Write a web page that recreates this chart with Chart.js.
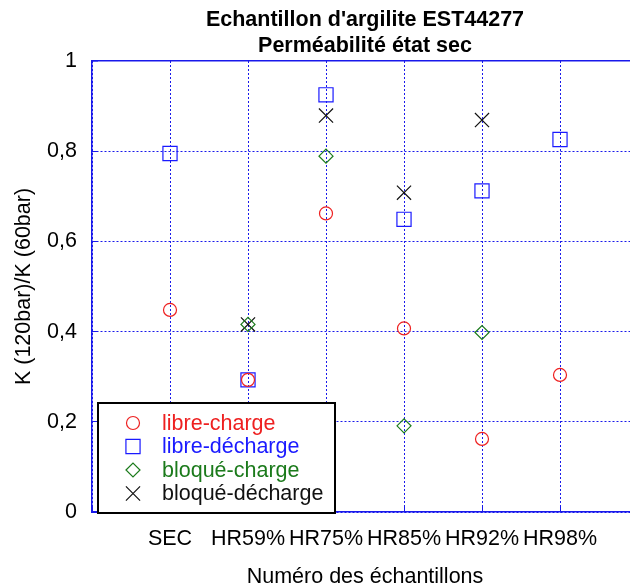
<!DOCTYPE html>
<html>
<head>
<meta charset="utf-8">
<script src="https://cdn.jsdelivr.net/npm/chart.js@4/dist/chart.umd.min.js"></script>
<style>
  html, body { margin: 0; padding: 0; overflow: hidden; background: #fff; }
  canvas { display: block; }
</style>
</head>
<body>
<canvas id="chart" width="658" height="587"></canvas>
<script>
// samples along the x axis
const categories = ['SEC', 'HR59%', 'HR75%', 'HR85%', 'HR92%', 'HR98%'];

// K(120bar)/K(60bar) (null = no measure)
const libreCharge    = [0.448, 0.293, 0.662, 0.407, 0.162, 0.304];
const libreDecharge  = [0.795, 0.293, 0.925, 0.649, 0.712, 0.826];
const bloqueCharge   = [null, 0.416, 0.789, 0.191, 0.398, null];
const bloqueDecharge = [null, 0.416, 0.879, 0.708, 0.869, null];

const yTicks = [0, 0.2, 0.4, 0.6, 0.8, 1];

const FONT = '"Liberation Sans", Arial, sans-serif';
const GRID = 'rgb(25,25,235)';

const toPoints = vals => vals.map((v, i) => ({x: i + 1, y: v})).filter(p => p.y !== null);

const series = [
    {label: 'libre-charge',    data: libreCharge,    style: 'circle',   r: 6.5, color: '#ee2020'},
    {label: 'libre-décharge',  data: libreDecharge,  style: 'rect',     r: 10,  color: '#1a1aff'},
    {label: 'bloqué-charge',   data: bloqueCharge,   style: 'rectRot',  r: 7,   color: '#1b7a1b'},
    {label: 'bloqué-décharge', data: bloqueDecharge, style: 'crossRot', r: 10,  color: '#111111'},
];

function drawMarker(ctx, style, r, x, y) {
    ctx.beginPath();
    if (style === 'circle') {
        ctx.arc(x, y, r, 0, Math.PI * 2);
    } else if (style === 'rect') {
        const s = r * Math.SQRT1_2;
        ctx.rect(x - s, y - s, 2 * s, 2 * s);
    } else if (style === 'rectRot') {
        ctx.moveTo(x - r, y); ctx.lineTo(x, y - r); ctx.lineTo(x + r, y); ctx.lineTo(x, y + r); ctx.closePath();
    } else {
        const s = r * Math.SQRT1_2;
        ctx.moveTo(x - s, y - s); ctx.lineTo(x + s, y + s);
        ctx.moveTo(x + s, y - s); ctx.lineTo(x - s, y + s);
    }
    ctx.stroke();
}

// legend box drawn inside the plot, bottom left
const legendBox = {
    id: 'legendBox',
    afterDraw(chart) {
        const ctx = chart.ctx, a = chart.chartArea;
        const x0 = a.left + 6, y0 = a.bottom - 109, w = 237, h = 110;
        ctx.save();
        ctx.fillStyle = '#fff';
        ctx.fillRect(x0, y0, w, h);
        ctx.lineWidth = 2;
        ctx.strokeStyle = '#000';
        ctx.strokeRect(x0, y0, w, h);
        ctx.font = '21.5px ' + FONT;
        ctx.textBaseline = 'middle';
        series.forEach((s, i) => {
            const y = y0 + 20 + i * 23.5;
            ctx.strokeStyle = s.color;
            ctx.lineWidth = 1.2;
            drawMarker(ctx, s.style, s.r, x0 + 35, y);
            ctx.fillStyle = s.color;
            ctx.fillText(s.label, x0 + 64, y + 1);
        });
        ctx.restore();
    }
};

const isTop = c => c.tick && Math.abs(c.tick.value - 1) < 1e-9;

new Chart(document.getElementById('chart'), {
    type: 'scatter',
    data: {
        datasets: series.map(s => ({
            label: s.label,
            data: toPoints(s.data),
            pointStyle: s.style,
            pointRadius: s.r,
            pointHoverRadius: s.r,
            borderColor: s.color,
            backgroundColor: 'rgba(0,0,0,0)',
            pointBorderWidth: 1.2,
            showLine: false,
        }))
    },
    options: {
        responsive: false,
        animation: false,
        layout: {padding: 0},
        plugins: {
            legend: {display: false},
            tooltip: {enabled: false},
            title: {
                display: true,
                fullSize: false,
                text: ["Echantillon d'argilite EST44277", 'Perméabilité état sec'],
                color: '#000',
                font: {family: FONT, size: 21.5, weight: 'bold'},
                padding: {top: 7, bottom: 2.4},
            },
        },
        scales: {
            x: {
                type: 'linear',
                position: 'bottom',
                min: 0,
                max: 7,
                afterFit: s => { s.height = 75; },
                ticks: {
                    stepSize: 1,
                    autoSkip: false,
                    maxRotation: 0,
                    padding: 20,
                    color: '#000',
                    font: {family: FONT, size: 21.5},
                    callback: v => categories[v - 1] || '',
                },
                grid: {color: GRID, lineWidth: 1, drawTicks: true, tickLength: -6, tickColor: GRID, tickBorderDash: []},
                border: {display: true, color: GRID, width: 1.5, dash: [2, 2]},
                title: {
                    display: true,
                    text: 'Numéro des échantillons',
                    color: '#000',
                    font: {family: FONT, size: 21.5, lineHeight: '20px'},
                    padding: 0,
                },
            },
            y: {
                min: 0,
                max: 1,
                afterFit: s => { s.width = 92; },
                afterBuildTicks: s => { s.ticks = yTicks.map(v => ({value: v})); },
                ticks: {
                    padding: 21,
                    color: '#000',
                    font: {family: FONT, size: 21.5},
                    callback: v => String(+v.toFixed(1)).replace('.', ','),
                },
                grid: {
                    color: GRID,
                    lineWidth: c => isTop(c) ? 1.5 : 1,
                    drawTicks: true, tickLength: -6, tickColor: GRID, tickBorderDash: [],
                },
                border: {display: true, color: GRID, width: 1.5, dash: c => isTop(c) ? [] : [2, 2]},
                title: {
                    display: true,
                    text: 'K (120bar)/K (60bar)',
                    color: '#000',
                    font: {family: FONT, size: 21.5},
                    padding: {top: 11, bottom: 0},
                },
            },
        },
    },
    plugins: [legendBox],
});
</script>
</body>
</html>
